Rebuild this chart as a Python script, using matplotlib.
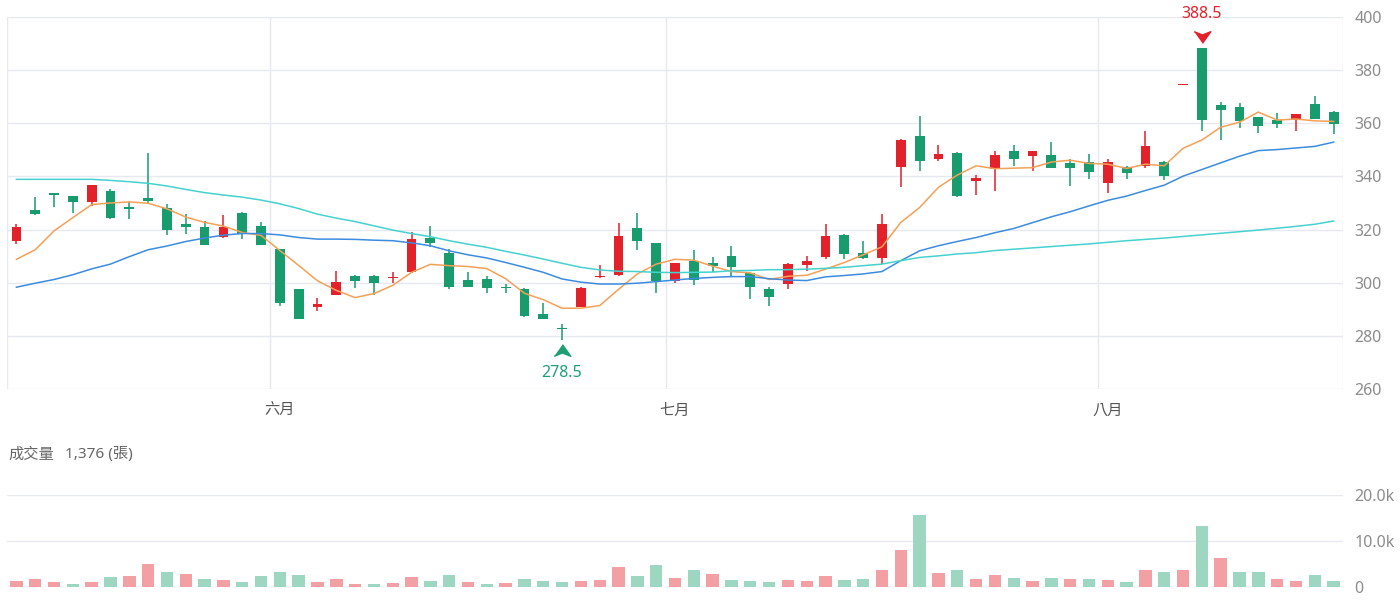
#!/usr/bin/env python
# candlestick chart with moving averages and volume
import matplotlib
matplotlib.use('Agg')
import numpy as np
import matplotlib.pyplot as plt

plt.rcParams['font.family'] = ['Noto Sans', 'Noto Sans CJK TC', 'DejaVu Sans']

opens = [315.8, 327.5, 333.6, 332.5, 330.3, 334.5, 328.5, 332.0, 328.1, 322.1,
         321.0, 317.3, 326.1, 321.5, 312.6, 297.7, 290.8, 295.5, 302.7, 302.7,
         301.6, 303.9, 316.8, 311.2, 301.0, 301.5, 298.4, 297.7, 288.1, 283.0,
         291.0, 302.2, 302.8, 320.5, 314.8, 300.8, 308.3, 307.3, 310.1, 303.5,
         297.7, 299.5, 306.8, 309.5, 318.0, 311.0, 309.3, 343.6, 355.1, 346.7,
         348.8, 338.2, 342.6, 349.5, 347.6, 348.0, 345.1, 345.5, 337.6, 343.5,
         343.8, 345.5, 374.3, 388.5, 366.9, 366.3, 362.3, 361.2, 361.1, 367.4,
         364.3]
highs = [322.2, 332.2, 333.8, 332.6, 336.8, 335.4, 330.4, 348.8, 329.7, 325.8,
         323.3, 325.5, 326.5, 322.9, 312.8, 297.8, 294.3, 304.3, 302.9, 302.9,
         304.2, 319.1, 321.3, 312.6, 303.9, 302.7, 299.5, 297.9, 292.3, 284.6,
         298.2, 306.8, 322.6, 326.4, 315.0, 307.5, 312.3, 309.8, 313.8, 303.7,
         298.5, 307.3, 310.1, 322.2, 318.2, 315.8, 325.8, 354.0, 362.6, 352.0,
         349.0, 340.5, 349.7, 352.0, 349.7, 352.8, 346.5, 348.6, 346.4, 343.8,
         357.2, 345.7, 374.7, 388.5, 367.9, 367.5, 362.5, 363.8, 363.5, 370.4,
         364.5]
lows = [314.5, 325.6, 328.5, 326.4, 328.9, 324.0, 323.9, 330.1, 317.9, 318.4,
        314.0, 317.0, 316.4, 314.0, 291.2, 286.3, 289.2, 295.3, 298.0, 295.5,
        300.0, 303.8, 313.6, 297.7, 298.2, 296.0, 296.2, 287.1, 286.2, 278.5,
        290.8, 301.8, 302.5, 312.3, 296.0, 299.9, 299.3, 303.9, 302.3, 293.9,
        291.4, 297.7, 304.5, 309.0, 308.9, 309.0, 307.0, 336.0, 342.0, 345.7,
        332.4, 332.9, 334.5, 343.8, 342.2, 343.0, 336.4, 338.9, 333.8, 339.2,
        343.2, 338.5, 374.3, 357.2, 353.8, 358.2, 356.3, 358.4, 357.2, 361.5,
        355.9]
closes = [321.0, 325.8, 333.0, 330.4, 336.6, 324.3, 327.7, 330.6, 319.8, 320.9,
          314.3, 321.1, 318.5, 314.3, 292.4, 286.4, 292.1, 300.2, 300.8, 299.8,
          302.2, 316.6, 315.1, 298.3, 298.4, 298.0, 297.9, 287.3, 286.4, 282.6,
          298.0, 302.7, 317.6, 315.8, 300.8, 307.3, 301.0, 306.3, 305.8, 298.3,
          294.8, 307.0, 308.0, 317.6, 310.8, 309.3, 322.0, 353.8, 345.7, 348.6,
          332.6, 339.5, 348.0, 346.7, 349.5, 343.2, 343.2, 341.7, 345.5, 341.2,
          351.3, 340.1, 374.7, 361.3, 365.1, 360.7, 359.1, 359.7, 363.3, 361.7,
          359.7]

ma5 = [308.8, 312.4, 319.5, 324.5, 329.4, 330.0, 330.4, 329.9, 327.8, 324.7,
       322.7, 321.3, 318.9, 317.8, 312.1, 306.5, 300.7, 297.1, 294.4, 295.9,
       299.0, 303.9, 306.9, 306.4, 306.1, 305.3, 301.5, 296.0, 293.6, 290.4,
       290.4, 291.4, 297.5, 303.3, 307.0, 308.8, 308.5, 306.2, 304.2, 303.7,
       301.2, 302.4, 302.8, 305.1, 307.6, 310.5, 313.5, 322.7, 328.3, 335.9,
       340.5, 344.0, 342.9, 343.1, 343.3, 345.4, 346.1, 344.9, 344.6, 343.0,
       344.6, 344.0, 350.6, 353.7, 358.5, 360.4, 364.2, 361.2, 361.6, 360.9,
       360.7]
ma20 = [298.3, 299.8, 301.2, 303.0, 305.2, 307.0, 309.8, 312.4, 313.8, 315.5,
        316.8, 317.9, 318.5, 318.5, 318.0, 317.0, 316.4, 316.4, 316.3, 316.0,
        315.8, 315.0, 313.9, 312.0, 310.5, 309.3, 307.6, 305.8, 303.9, 301.4,
        300.2, 299.5, 299.5, 299.8, 300.4, 301.0, 301.6, 302.0, 302.3, 302.3,
        301.5, 301.0, 300.8, 302.2, 302.7, 303.3, 304.2, 308.3, 312.0, 313.9,
        315.5, 317.0, 318.8, 320.4, 322.6, 324.8, 326.7, 328.9, 331.0, 332.6,
        334.7, 336.7, 340.1, 342.6, 345.1, 347.6, 349.7, 350.1, 350.7, 351.3,
        352.9]
ma60 = [338.9, 338.9, 338.9, 338.9, 338.9, 338.5, 338.0, 337.4, 336.4, 335.1,
        333.9, 333.0, 332.2, 331.1, 329.7, 327.9, 325.8, 324.3, 323.0, 321.4,
        319.8, 318.5, 317.3, 315.8, 314.5, 313.3, 311.8, 310.4, 308.9, 307.3,
        305.8, 304.8, 304.3, 304.2, 303.9, 303.8, 303.9, 304.0, 304.5, 304.6,
        304.9, 304.9, 305.1, 305.4, 305.8, 306.4, 307.0, 308.3, 309.5, 310.1,
        310.8, 311.3, 312.1, 312.6, 313.1, 313.6, 314.1, 314.6, 315.2, 315.8,
        316.3, 316.8, 317.4, 318.0, 318.6, 319.2, 319.8, 320.5, 321.2, 322.0,
        323.2]

volumes = [1400, 1800, 1100, 700, 1000, 2100, 2300, 5100, 3300, 2800,
           1700, 1500, 1100, 2300, 3300, 2500, 1100, 1700, 600, 600,
           800, 2100, 1200, 2500, 1100, 700, 900, 1800, 1300, 1000,
           1200, 1600, 4300, 2400, 4800, 1900, 3800, 2800, 1500, 1200,
           1100, 1500, 1200, 2400, 1500, 1700, 3600, 8100, 15700, 3100,
           3700, 1800, 2500, 2000, 1400, 2000, 1800, 1700, 1500, 1000,
           3600, 3300, 3800, 13200, 6400, 3300, 3300, 1700, 1300, 2500,
           1376]
# r = price up vs previous day, g = down
vol_dir = "rrrgrgrrgrgrggggrrrgrrggrgrgggrrrggrgrgggrrrggrrgrgrrgrgrgrgrgrgrggrrgg"[:71]

month_pos = [14, 35, 58]
month_labels = ['六月', '七月', '八月']
month_edges = [13.5, 34.5, 57.5]

red = '#e3212b'
green = '#189c6e'
vol_red = '#f3a0a5'
vol_green = '#9dd7c1'
grid_col = '#e7e9f1'

o = np.array(opens)
c = np.array(closes)
x = np.arange(len(c))
cols = np.where(c >= o, red, green)

fig = plt.figure(figsize=(14, 6), dpi=100)
ax = fig.add_axes([0.005, 0.3517, 0.9543, 0.62])
axv = fig.add_axes([0.005, 0.0217, 0.9543, 0.1533])

# candles
ax.vlines(x, lows, highs, colors=cols, lw=1.1, zorder=3)
ax.bar(x, np.maximum(np.abs(c - o), 0.45), bottom=np.minimum(o, c),
       width=0.52, color=cols, linewidth=0, zorder=4)

ax.plot(x, ma5, color='#f5a057', lw=1.1, zorder=5)
ax.plot(x, ma20, color='#3b8ce0', lw=1.1, zorder=5)
ax.plot(x, ma60, color='#45d2cf', lw=1.1, zorder=5)

# max / min markers
imax = int(np.argmax(highs))
imin = int(np.argmin(lows))
down_arrow = [(-1, 0.7), (0, 0.3), (1, 0.7), (0, -0.7)]
up_arrow = [(-1, -0.7), (0, -0.3), (1, -0.7), (0, 0.7)]
ax.plot(imax, highs[imax] + 3.8, marker=down_arrow, ms=12, color=red,
        ls='none', clip_on=False, zorder=6)
ax.text(imax, highs[imax] + 12.6, '%.1f' % highs[imax], color=red,
        ha='center', va='center', fontsize=11.5)
ax.plot(imin, lows[imin] - 3.7, marker=up_arrow, ms=12, color='#1d9f74',
        ls='none', clip_on=False, zorder=6)
ax.text(imin, lows[imin] - 12.4, '%.1f' % lows[imin], color='#1d9f74',
        ha='center', va='center', fontsize=11.5)

ax.set_xlim(-0.5, len(c) - 0.5)
ax.set_ylim(260, 400)
ax.set_yticks(np.arange(260, 401, 20))
ax.yaxis.tick_right()
ax.grid(axis='y', color=grid_col, lw=1, zorder=0)
for xe in month_edges + [-0.5, len(c) - 0.5]:
    ax.axvline(xe, color=grid_col, lw=1, zorder=0)
ax.set_xticks(month_pos)
ax.set_xticklabels(month_labels)
ax.tick_params(axis='x', length=0, pad=11, labelcolor='#555555', labelsize=11)
ax.tick_params(axis='y', length=0, pad=8, labelcolor='#8c8c8c', labelsize=11.5)
for s in ax.spines.values():
    s.set_visible(False)

# volume
vcols = [vol_red if d == 'r' else vol_green for d in vol_dir]
axv.bar(x, volumes, width=0.66, color=vcols, linewidth=0, zorder=3)
axv.set_xlim(-0.5, len(c) - 0.5)
axv.set_ylim(0, 20000)
axv.set_yticks([0, 10000, 20000])
axv.set_yticklabels(['0', '10.0k', '20.0k'])
axv.yaxis.tick_right()
axv.set_xticks([])
axv.grid(axis='y', color=grid_col, lw=1, zorder=0)
axv.tick_params(axis='y', length=0, pad=8, labelcolor='#8c8c8c', labelsize=11.5)
for s in axv.spines.values():
    s.set_visible(False)

fig.text(0.0057, 0.2417, '成交量', color='#666666', fontsize=11,
         va='center', ha='left')
fig.text(0.0465, 0.2417, '%s (張)' % format(volumes[-1], ','),
         color='#666666', fontsize=11, va='center', ha='left')

fig.savefig('out.png', dpi=100)
